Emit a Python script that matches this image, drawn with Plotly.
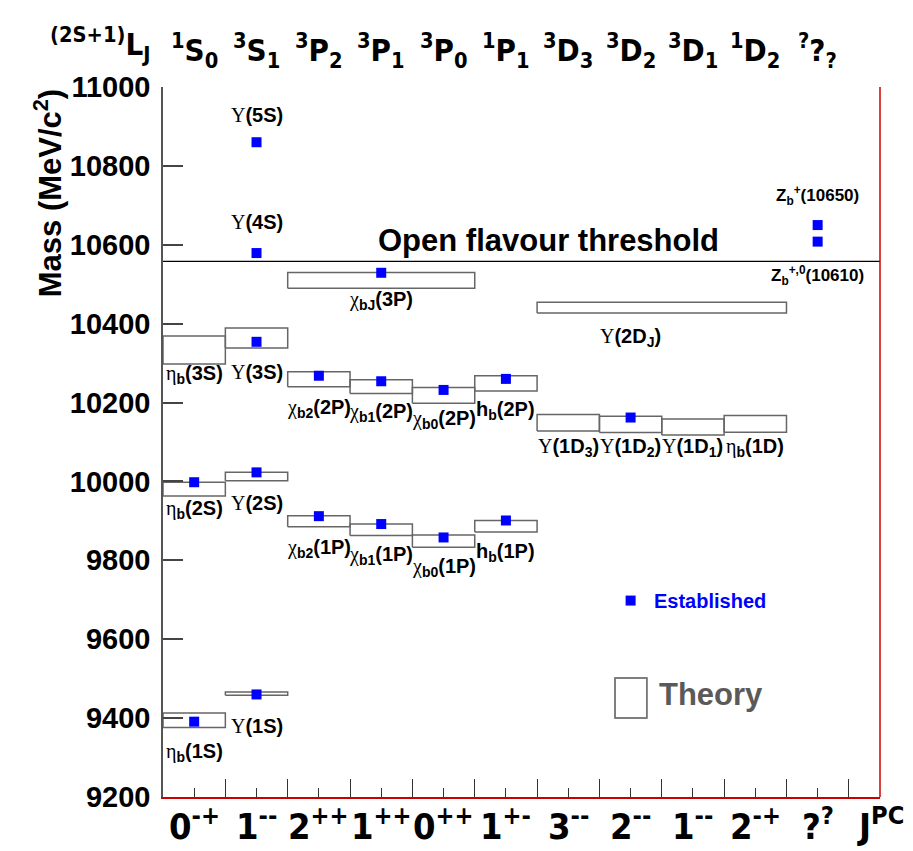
import plotly.graph_objects as go

# ---------------------------------------------------------------------------
# Bottomonium spectrum: measured masses and theory ranges (MeV/c^2)
# ---------------------------------------------------------------------------
spec_labels = ["<sup>1</sup>S<sub>0</sub>", "<sup>3</sup>S<sub>1</sub>",
               "<sup>3</sup>P<sub>2</sub>", "<sup>3</sup>P<sub>1</sub>",
               "<sup>3</sup>P<sub>0</sub>", "<sup>1</sup>P<sub>1</sub>",
               "<sup>3</sup>D<sub>3</sub>", "<sup>3</sup>D<sub>2</sub>",
               "<sup>3</sup>D<sub>1</sub>", "<sup>1</sup>D<sub>2</sub>",
               "<sup>?</sup>?<sub>?</sub>"]
jpc_labels = ["0<sup>-+</sup>", "1<sup>--</sup>", "2<sup>++</sup>", "1<sup>++</sup>",
              "0<sup>++</sup>", "1<sup>+-</sup>", "3<sup>--</sup>", "2<sup>--</sup>",
              "1<sup>--</sup>", "2<sup>-+</sup>", "?<sup>?</sup>"]

# theory bands: first column, number of columns spanned, lower / upper mass
theory_names = ["eta_b(1S)", "Y(1S)", "eta_b(2S)", "Y(2S)", "eta_b(3S)", "Y(3S)",
                "chi_b2(1P)", "chi_b1(1P)", "chi_b0(1P)", "h_b(1P)",
                "chi_b2(2P)", "chi_b1(2P)", "chi_b0(2P)", "h_b(2P)",
                "chi_bJ(3P)", "Y(2D_J)", "Y(1D_3)", "Y(1D_2)", "Y(1D_1)", "eta_b(1D)"]
theory_col = [0, 1, 0, 1, 0, 1, 2, 3, 4, 5, 2, 3, 4, 5, 2, 6, 6, 7, 8, 9]
theory_span = [1, 1, 1, 1, 1, 1, 1, 1, 1, 1, 1, 1, 1, 1, 3, 4, 1, 1, 1, 1]
theory_low = [9376, 9458, 9963, 10002, 10298, 10338,
              9885, 9863, 9833, 9872,
              10240, 10223, 10198, 10229,
              10490, 10427, 10128, 10124, 10118, 10125]
theory_high = [9413, 9466, 9998, 10023, 10369, 10389,
               9913, 9892, 9864, 9901,
               10278, 10258, 10238, 10268,
               10530, 10454, 10170, 10165, 10158, 10167]

# established states: column and measured mass
exp_names = ["eta_b(1S)", "Y(1S)", "eta_b(2S)", "Y(2S)", "Y(3S)", "Y(4S)", "Y(5S)",
             "chi_b2(1P)", "chi_b1(1P)", "chi_b0(1P)", "h_b(1P)",
             "chi_b2(2P)", "chi_b1(2P)", "chi_b0(2P)", "h_b(2P)",
             "chi_bJ(3P)", "Y(1D_2)", "Z_b(10610)", "Z_b(10650)"]
exp_col = [0, 1, 0, 1, 1, 1, 1, 2, 3, 4, 5, 2, 3, 4, 5, 3, 7, 10, 10]
exp_mass = [9391, 9460, 9998, 10023, 10354, 10579, 10860,
            9912, 9892, 9858, 9901,
            10268, 10254, 10232, 10260,
            10529, 10162, 10608, 10650]

open_flavour_threshold = 10558
y_ticks = [9200, 9400, 9600, 9800, 10000, 10200, 10400, 10600, 10800, 11000]

# ---------------------------------------------------------------------------
SANS = "Liberation Sans, Arial, Helvetica, sans-serif"
NARROW = "DejaVu Sans Condensed, Liberation Sans Narrow, sans-serif"
GREY = "#5a5a5a"


def greek(ch):
    return ('<span style="font-family:Liberation Serif, DejaVu Serif, serif;'
            'font-weight:normal">' + ch + '</span>')


UPS = greek("\u03a5")
ETA = greek("\u03b7")
CHI = greek("\u03c7")

fig = go.Figure()

# theory bands as open rectangles
for c, s, lo, hi in zip(theory_col, theory_span, theory_low, theory_high):
    fig.add_trace(go.Scatter(
        x=[c, c + s, c + s, c, c], y=[lo, lo, hi, hi, lo],
        mode="lines", line=dict(color="#666666", width=1.5),
        hoverinfo="skip", showlegend=False))

# open flavour threshold
fig.add_trace(go.Scatter(
    x=[0, 11.5], y=[open_flavour_threshold] * 2, mode="lines",
    line=dict(color="black", width=1.2), hoverinfo="skip", showlegend=False))

# established states
fig.add_trace(go.Scatter(
    x=[c + 0.5 for c in exp_col], y=exp_mass, mode="markers",
    marker=dict(symbol="square", size=10, color="#0000ff", line=dict(width=0)),
    text=exp_names, hoverinfo="text+y", showlegend=False))

# key: established marker and theory box
fig.add_trace(go.Scatter(
    x=[7.5], y=[9698], mode="markers",
    marker=dict(symbol="square", size=10, color="#0000ff", line=dict(width=0)),
    hoverinfo="skip", showlegend=False))
fig.add_shape(type="rect", xref="x", yref="y", x0=7.25, x1=7.76, y0=9400, y1=9502,
              line=dict(color="#777777", width=1.5), fillcolor="rgba(0,0,0,0)")

ann = []


def label(x, y, text, size=20, xanchor="center", color="black", family=SANS,
          xref="x", yref="y", yanchor="middle"):
    ann.append(dict(x=x, y=y, xref=xref, yref=yref, text=text, showarrow=False,
                    xanchor=xanchor, yanchor=yanchor,
                    font=dict(family=family, size=size, color=color, weight="bold")))


# state names
state_labels = [
    (1.5, 10929, UPS + "(5S)"),
    (1.5, 10658, UPS + "(4S)"),
    (0.5, 10272, ETA + "<sub>b</sub>(3S)"),
    (1.5, 10277, UPS + "(3S)"),
    (3.5, 10460, CHI + "<sub>bJ</sub>(3P)"),
    (7.5, 10364, UPS + "(2D<sub>J</sub>)"),
    (2.5, 10186, CHI + "<sub>b2</sub>(2P)"),
    (3.5, 10176, CHI + "<sub>b1</sub>(2P)"),
    (4.5, 10156, CHI + "<sub>b0</sub>(2P)"),
    (5.5, 10179, "h<sub>b</sub>(2P)"),
    (6.5, 10085, UPS + "(1D<sub>3</sub>)"),
    (7.5, 10085, UPS + "(1D<sub>2</sub>)"),
    (8.5, 10085, UPS + "(1D<sub>1</sub>)"),
    (9.5, 10085, ETA + "<sub>b</sub>(1D)"),
    (0.5, 9928, ETA + "<sub>b</sub>(2S)"),
    (1.5, 9945, UPS + "(2S)"),
    (2.5, 9831, CHI + "<sub>b2</sub>(1P)"),
    (3.5, 9813, CHI + "<sub>b1</sub>(1P)"),
    (4.5, 9781, CHI + "<sub>b0</sub>(1P)"),
    (5.5, 9819, "h<sub>b</sub>(1P)"),
    (0.5, 9312, ETA + "<sub>b</sub>(1S)"),
    (1.5, 9380, UPS + "(1S)"),
]
for x, y, t in state_labels:
    label(x, y, t)

label(10.5, 10726, "Z<sub>b</sub><sup>+</sup>(10650)", size=17)
label(10.5, 10523, "Z<sub>b</sub><sup>+,0</sup>(10610)", size=17)
label(6.18, 10612, "Open flavour threshold", size=31)
label(7.84, 9698, "Established", size=20, xanchor="left", color="#0000ff")
label(7.92, 9459, "Theory", size=31, xanchor="left", color=GREY)

# column headings
for i, t in enumerate(spec_labels):
    label(i + 0.5, 1.052, t, size=31, family=NARROW, yref="paper")
label(-0.088, 1.06, "<sup>(2S+1)</sup>L<sub>J</sub>", size=31, family=NARROW,
      xref="paper", yref="paper")
for i, t in enumerate(jpc_labels):
    label(i + 0.5, -0.0735, t, size=36, family=NARROW, yref="paper", yanchor="bottom")
label(11.5, -0.0735, "J<sup>PC</sup>", size=36, family=NARROW, yref="paper",
      yanchor="bottom")

# vertical axis title
ann.append(dict(x=-0.160, y=1.0, xref="paper", yref="paper", textangle=-90,
                text="Mass (MeV/c<sup>2</sup>)", showarrow=False,
                xanchor="center", yanchor="top",
                font=dict(family=SANS, size=31, color="black", weight="bold")))

fig.update_layout(
    width=913, height=851,
    margin=dict(l=163, r=33, t=87, b=54),
    paper_bgcolor="white", plot_bgcolor="white",
    annotations=ann,
    xaxis=dict(range=[0, 11.5], showgrid=False, zeroline=False,
               tickmode="array", tickvals=list(range(12)), showticklabels=False,
               ticks="inside", ticklen=18, tickwidth=1.2, tickcolor="#333333",
               minor=dict(tickmode="array", tickvals=[i + 0.5 for i in range(11)],
                          ticks="inside", ticklen=9, tickwidth=1.2, tickcolor="#333333"),
               showline=True, linecolor="#cc0000", linewidth=2),
    yaxis=dict(range=[9200, 11000], showgrid=False, zeroline=False,
               tickmode="array", tickvals=y_ticks,
               ticktext=[str(v) for v in y_ticks],
               ticks="inside", ticklen=20, tickwidth=1.5, tickcolor="#444444",
               tickfont=dict(family=SANS, size=29, color="black", weight="bold"),
               ticklabelstandoff=5,
               showline=True, linecolor="#555555", linewidth=1.5),
    shapes=[
        dict(type="line", xref="paper", yref="paper", x0=0, x1=1, y0=1, y1=1,
             line=dict(color="#555555", width=1.5)),
        dict(type="line", xref="paper", yref="paper", x0=1, x1=1, y0=0, y1=1,
             line=dict(color="#cc0000", width=1.5)),
    ] + list(fig.layout.shapes),
)

fig.write_html("out.html")
